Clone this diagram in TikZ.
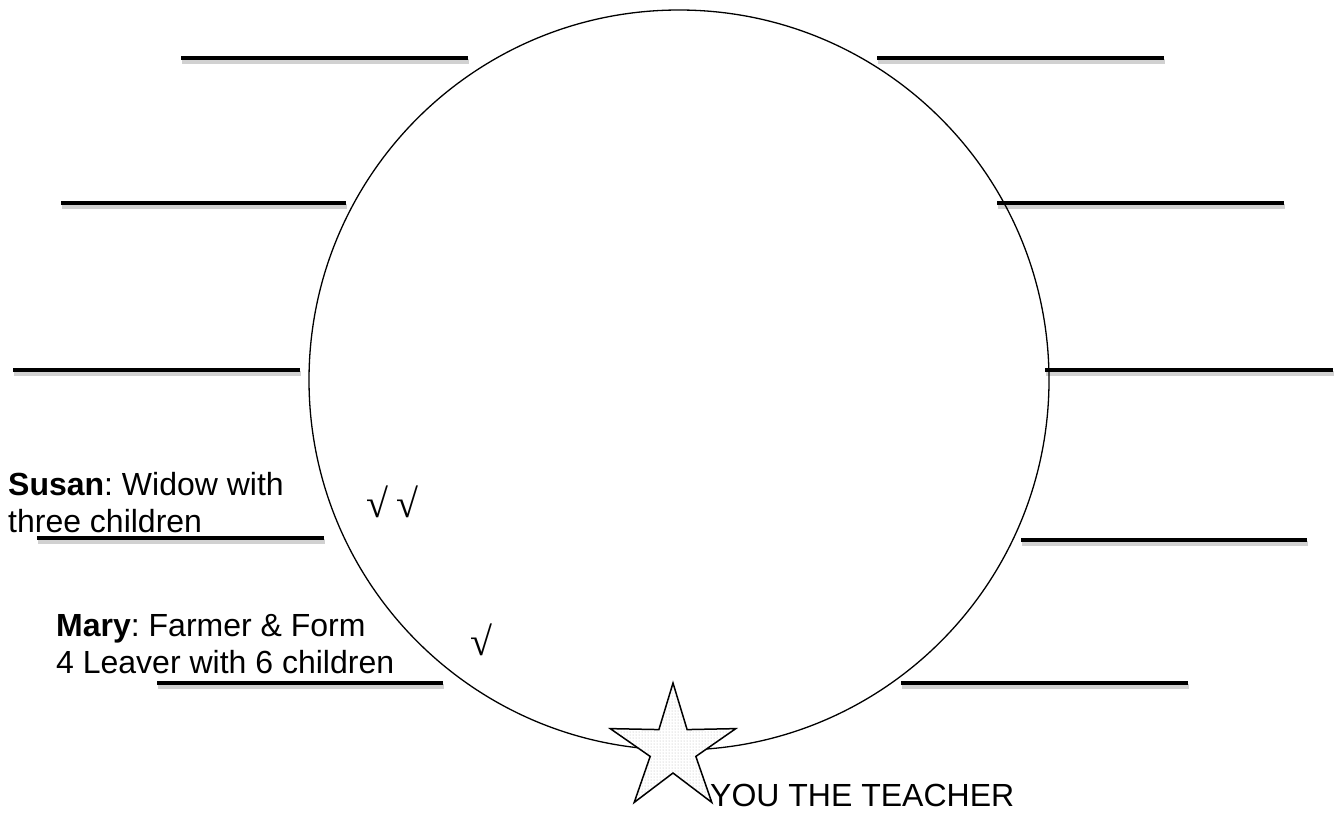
\documentclass[tikz,border=0pt]{standalone}
\usepackage{fontspec}
\setmainfont{Liberation Sans}
\newfontfamily\chkfont{Liberation Serif}
\usetikzlibrary{shapes.geometric,patterns}
\frenchspacing
\tikzset{
  blank/.style={line width=4pt},
  blankshadow/.style={line width=5pt, draw=black!18, transform canvas={shift={(1pt,-3pt)}}},
  lbl/.style={anchor=base west, inner sep=0pt, align=left, font=\fontsize{32}{37}\selectfont},
  chk/.style={anchor=base west, inner sep=0pt, font=\chkfont\fontsize{40}{40}\selectfont},
}
\begin{document}
\begin{tikzpicture}[x=1pt,y=-1pt]
\useasboundingbox (0,0) rectangle (1335,831);
% blanks
\foreach \xa/\xb/\yy [count=\i] in {181/468/58, 61/346/203, 13/300/370, 37/324/538, 157/443/683,
                       877/1164/58, 997/1284/203, 1045/1333/370, 1021/1307/540, 901/1188/683}{
  \coordinate (b\i a) at (\xa,\yy);
  \coordinate (b\i b) at (\xb,\yy);
  \draw[blankshadow] (b\i a) -- (b\i b);
  \draw[blank] (b\i a) -- (b\i b);
}
% circle
\node[circle, draw, line width=1.3pt, minimum size=740pt, inner sep=0pt] (ring) at (679,380) {};
% star
\node[star, star points=5, star point ratio=2.75, minimum size=132pt, inner sep=0pt,
      draw, line width=1.5pt, preaction={fill=white}, pattern=dots, pattern color=black!30]
      (star) at (673,749) {};
% texts (base anchor = baseline of last line)
\node[lbl] (susan) at (8,532) {\textbf{Susan}: Widow with\\three children};
\node[lbl] (mary) at (56,673) {\textbf{Mary}: Farmer \& Form\\4 Leaver with 6 children};
\node[chk] (c1) at (366,517) {√\hspace{8pt}√};
\node[chk] (c2) at (470,655) {√};
\node[anchor=base west, inner sep=0pt, font=\fontsize{32}{36}\selectfont] (you) at (710,806) {YOU THE TEACHER};
\end{tikzpicture}
\end{document}
